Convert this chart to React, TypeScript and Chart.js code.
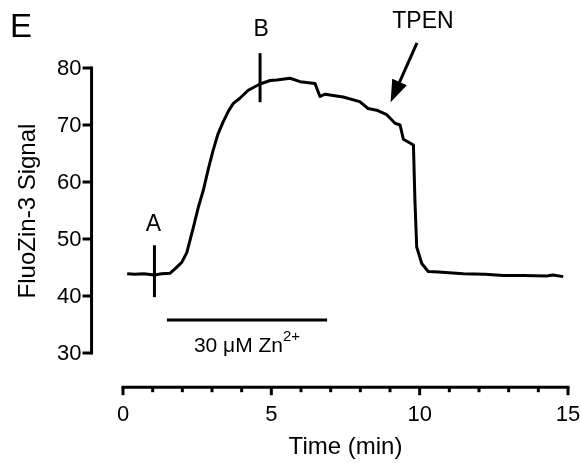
import React, { useEffect, useRef } from "react";
import { Chart, registerables } from "chart.js";

Chart.register(...registerables);

// Trace data (time in min, FluoZin-3 signal)
const times = [0.14, 0.4, 0.7, 1.05, 1.3, 1.59, 1.76, 1.98, 2.15, 2.26, 2.37, 2.54, 2.71, 2.88, 3.04, 3.2, 3.38, 3.55, 3.72, 3.94, 4.22, 4.62, 4.96, 5.18, 5.63, 5.97, 6.47, 6.64, 6.81, 7.42, 7.98, 8.26, 8.55, 8.89, 9.17, 9.34, 9.45, 9.79, 9.84, 9.9, 10.07, 10.29, 10.63, 11.47, 12.2, 12.82, 13.5, 14.28, 14.49, 14.84];
const signal = [43.9, 43.8, 43.9, 43.7, 43.9, 44.0, 44.8, 45.9, 47.6, 49.8, 52.0, 55.6, 58.6, 62.4, 65.6, 68.4, 70.6, 72.4, 73.8, 74.7, 76.1, 77.2, 77.8, 77.9, 78.2, 77.6, 77.3, 75.0, 75.4, 74.9, 74.1, 72.9, 72.6, 71.8, 70.3, 70.0, 67.5, 66.5, 56.8, 48.6, 45.7, 44.3, 44.2, 43.9, 43.8, 43.6, 43.6, 43.5, 43.7, 43.4];

// Axis ticks
const xMajorTicks = [0, 5, 10, 15];
const xMinorTicks = [1, 2, 3, 4, 6, 7, 8, 9, 11, 12, 13, 14];
const yTicks = [30, 40, 50, 60, 70, 80];

// Annotation markers (time, [low, high])
const markerATime = 1.06;
const markerARange = [39.8, 48.9];
const markerBTime = 4.62;
const markerBRange = [74.0, 82.6];
const znBarTimes = [1.48, 6.88];
const znBarLevel = 35.8;

// Offset axes positions in data space
const yAxisAtTime = -1.06;
const xAxisAtSignal = 24.0;

// Arrow (TPEN): tail -> tip
const arrowTail = { x: 9.91, y: 84.4 };
const arrowTip = { x: 9.02, y: 74.0 };

const FONT = '"Liberation Sans", Arial, sans-serif';

const axesPlugin = {
  id: "prismAxes",
  afterDraw(chart: any) {
    const ctx = chart.ctx as CanvasRenderingContext2D;
    const xs = chart.scales.x;
    const ys = chart.scales.y;
    const px = (v: number) => xs.getPixelForValue(v);
    const py = (v: number) => ys.getPixelForValue(v);
    ctx.save();
    ctx.strokeStyle = "#000";
    ctx.fillStyle = "#000";
    ctx.lineWidth = 3;
    ctx.lineCap = "butt";

    // Y axis
    const yx = px(yAxisAtTime);
    ctx.beginPath();
    ctx.moveTo(yx, py(80) - 1.5);
    ctx.lineTo(yx, py(30) + 1.5);
    ctx.stroke();
    ctx.font = `22px ${FONT}`;
    ctx.textAlign = "right";
    ctx.textBaseline = "middle";
    for (const t of yTicks) {
      const y = py(t);
      ctx.beginPath();
      ctx.moveTo(yx - 9, y);
      ctx.lineTo(yx, y);
      ctx.stroke();
      ctx.fillText(String(t), yx - 10, y + 1);
    }

    // X axis
    const xy = py(xAxisAtSignal);
    ctx.beginPath();
    ctx.moveTo(px(0) - 1.5, xy);
    ctx.lineTo(px(15) + 1.5, xy);
    ctx.stroke();
    ctx.textAlign = "center";
    for (const t of xMajorTicks) {
      const x = px(t);
      ctx.beginPath();
      ctx.moveTo(x, xy);
      ctx.lineTo(x, xy + 8);
      ctx.stroke();
      ctx.fillText(String(t), x, xy + 28);
    }
    for (const t of xMinorTicks) {
      const x = px(t);
      ctx.beginPath();
      ctx.moveTo(x, xy);
      ctx.lineTo(x, xy + 5);
      ctx.stroke();
    }

    // Axis titles
    ctx.font = `24px ${FONT}`;
    ctx.textAlign = "center";
    ctx.textBaseline = "middle";
    ctx.fillText("Time (min)", (px(0) + px(15)) / 2, 447);
    ctx.save();
    ctx.translate(28, 211);
    ctx.rotate(-Math.PI / 2);
    ctx.fillText("FluoZin-3 Signal", 0, 0);
    ctx.restore();

    // Panel letter
    ctx.font = `33px ${FONT}`;
    ctx.textAlign = "left";
    ctx.textBaseline = "alphabetic";
    ctx.fillText("E", 10, 37);

    // Marker labels
    ctx.font = `23px ${FONT}`;
    ctx.textAlign = "center";
    ctx.textBaseline = "middle";
    ctx.fillText("A", px(markerATime) - 1, py(52.5));
    ctx.fillText("B", px(markerBTime) + 1, py(86.8));
    ctx.fillText("TPEN", px(10.11), py(88.2));

    // Zn label
    const main = "30 \u03bcM Zn";
    const sup = "2+";
    ctx.font = `21px ${FONT}`;
    const wMain = ctx.measureText(main).width;
    ctx.font = `15px ${FONT}`;
    const wSup = ctx.measureText(sup).width;
    const cx = 247;
    const left = cx - (wMain + wSup) / 2;
    ctx.textAlign = "left";
    ctx.textBaseline = "alphabetic";
    ctx.font = `21px ${FONT}`;
    ctx.fillText(main, left, 352);
    ctx.font = `15px ${FONT}`;
    ctx.fillText(sup, left + wMain, 341);

    // Arrow
    const tx = px(arrowTail.x), ty = py(arrowTail.y);
    const hx = px(arrowTip.x), hy = py(arrowTip.y);
    const ang = Math.atan2(hy - ty, hx - tx);
    const headLen = 22, headW = 8;
    const bx = hx - headLen * Math.cos(ang), by = hy - headLen * Math.sin(ang);
    ctx.beginPath();
    ctx.moveTo(tx, ty);
    ctx.lineTo(bx, by);
    ctx.stroke();
    ctx.beginPath();
    ctx.moveTo(hx, hy);
    ctx.lineTo(bx + headW * Math.sin(ang), by - headW * Math.cos(ang));
    ctx.lineTo(bx - headW * Math.sin(ang), by + headW * Math.cos(ang));
    ctx.closePath();
    ctx.fill();

    ctx.restore();
  },
};

export default function App() {
  const ref = useRef<HTMLCanvasElement>(null);
  useEffect(() => {
    if (!ref.current) return;
    const trace = times.map((t, i) => ({ x: t, y: signal[i] }));
    const seg = (pts: { x: number; y: number }[]) => ({
      data: pts,
      borderColor: "#000",
      borderWidth: 3,
      pointRadius: 0,
      tension: 0,
      clip: false as any,
      borderCapStyle: "butt" as const,
    });
    const chart = new Chart(ref.current, {
      type: "line",
      data: {
        datasets: [
          {
            data: trace,
            borderColor: "#000",
            borderWidth: 3,
            pointRadius: 0,
            tension: 0,
            borderJoinStyle: "round",
            clip: false as any,
          },
          seg(markerARange.map((v) => ({ x: markerATime, y: v }))),
          seg(markerBRange.map((v) => ({ x: markerBTime, y: v }))),
          seg(znBarTimes.map((t) => ({ x: t, y: znBarLevel }))),
        ],
      },
      options: {
        animation: false,
        responsive: false,
        devicePixelRatio: 1,
        layout: { padding: { left: 123, right: 13, top: 68, bottom: 110 } },
        plugins: { legend: { display: false }, tooltip: { enabled: false } },
        scales: {
          x: { type: "linear", min: 0, max: 15, display: false },
          y: { type: "linear", min: 30, max: 80, display: false },
        },
      },
      plugins: [axesPlugin],
    });
    return () => chart.destroy();
  }, []);
  return (
    <div style={{ position: "fixed", left: 0, top: 0, width: 581, height: 463, background: "#fff" }}>
      <canvas ref={ref} width={581} height={463} />
    </div>
  );
}
